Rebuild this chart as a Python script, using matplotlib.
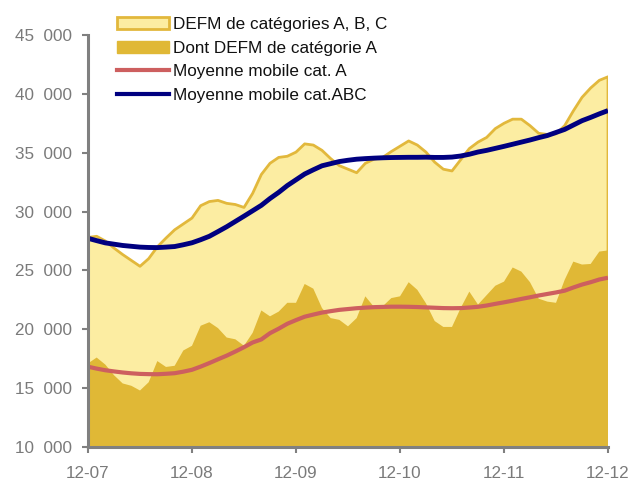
import matplotlib
matplotlib.use("Agg")
import matplotlib.pyplot as plt
from matplotlib.patches import Patch
from matplotlib.lines import Line2D
from matplotlib.ticker import FuncFormatter

plt.rcParams['font.family'] = ['Liberation Sans', 'DejaVu Sans']

tick_labels = ["12-07", "12-08", "12-09", "12-10", "12-11", "12-12"]

defm_abc = [27800, 27900, 27500, 26900, 26350, 25850, 25350, 26000, 27000, 27750,
            28450, 28950, 29450, 30500, 30850, 30950, 30700, 30600, 30350, 31550,
            33150, 34100, 34600, 34700, 35050, 35750, 35650, 35200, 34500, 33900,
            33600, 33300, 34100, 34450, 34600, 35100, 35550, 36000, 35650, 35050,
            34200, 33600, 33450, 34400, 35350, 35900, 36300, 37050, 37500, 37850,
            37850, 37300, 36650, 36550, 36600, 37300, 38550, 39700, 40500, 41150,
            41450]

defm_a = [17100, 17600, 17000, 16100, 15400, 15200, 14800, 15500, 17300, 16800,
          16900, 18200, 18600, 20300, 20600, 20100, 19300, 19150, 18600, 19700,
          21600, 21100, 21500, 22250, 22250, 23850, 23450, 21800, 20950, 20800,
          20250, 20950, 22800, 21900, 21950, 22650, 22800, 24000, 23350, 22200,
          20700, 20200, 20200, 21800, 23200, 22100, 22900, 23700, 24050, 25250,
          24900, 24000, 22600, 22350, 22250, 24200, 25750, 25500, 25550, 26600,
          26700]

mm_abc = [27730, 27530, 27340, 27230, 27120, 27050, 26980, 26950, 26940, 26980,
          27030, 27180, 27350, 27610, 27900, 28300, 28710, 29160, 29610, 30070,
          30530, 31110, 31630, 32210, 32700, 33190, 33550, 33890, 34070, 34250,
          34360, 34450, 34500, 34540, 34570, 34590, 34600, 34610, 34610, 34620,
          34600, 34600, 34630, 34720, 34870, 35060, 35200, 35370, 35540, 35720,
          35900, 36080, 36280, 36460, 36720, 36980, 37350, 37720, 38000, 38300,
          38580]

mm_a = [16820, 16660, 16520, 16420, 16330, 16260, 16210, 16190, 16180, 16220,
        16270, 16400, 16560, 16830, 17130, 17450, 17760, 18110, 18480, 18880,
        19140, 19670, 20050, 20470, 20780, 21070, 21250, 21420, 21540, 21650,
        21720, 21790, 21840, 21880, 21900, 21920, 21920, 21910, 21890, 21860,
        21830, 21800, 21790, 21800, 21850, 21910, 22020, 22160, 22290, 22430,
        22580, 22720, 22870, 23000, 23130, 23280, 23550, 23800, 24000, 24230,
        24380]

labels = ["DEFM de catégories A, B, C", "Dont DEFM de catégorie A",
          "Moyenne mobile cat. A", "Moyenne mobile cat.ABC"]

pale = "#FCEDA2"
gold = "#E0B836"
gold_edge = "#E2B83C"
red = "#CD5F5F"
navy = "#000080"
grey = "#808080"

months = list(range(len(defm_abc)))

fig = plt.figure(figsize=(6.33, 4.8), dpi=100)
ax = fig.add_axes([88/633, 1-447/480, 520/633, 412/480])

ax.fill_between(months, 0, defm_abc, facecolor=pale, edgecolor=gold_edge, linewidth=2.0, zorder=1)
ax.fill_between(months, 0, defm_a, facecolor=gold, edgecolor='none', linewidth=0, zorder=2)
ax.plot(months, mm_a, color=red, linewidth=3.0, zorder=3, solid_capstyle='butt')
ax.plot(months, mm_abc, color=navy, linewidth=3.5, zorder=4, solid_capstyle='butt')

ax.set_xlim(0, 60)
ax.set_ylim(10000, 45000)
ax.set_xticks([0, 12, 24, 36, 48, 60])
ax.set_xticklabels(tick_labels)
ax.set_yticks(range(10000, 45001, 5000))
ax.yaxis.set_major_formatter(FuncFormatter(lambda v, p: f"{int(v):,}".replace(",", "\u2007")))

for s in ['top', 'right']:
    ax.spines[s].set_visible(False)
for s in ['left', 'bottom']:
    ax.spines[s].set_color(grey)
    ax.spines[s].set_linewidth(2.2)
    ax.spines[s].set_zorder(6)

ax.tick_params(axis='both', colors=grey, labelcolor="#7a7a7a", labelsize=12.3,
               length=4.5, width=1.5, direction='out')
ax.tick_params(axis='y', pad=7)
ax.tick_params(axis='x', pad=9)

handles = [Patch(facecolor=pale, edgecolor=gold_edge, linewidth=2.0),
           Patch(facecolor=gold, edgecolor=gold),
           Line2D([], [], color=red, linewidth=3.0),
           Line2D([], [], color=navy, linewidth=3.0)]
leg = fig.legend(handles, labels, loc='upper left',
                 bbox_to_anchor=(103/633, 1-3/480), frameon=False,
                 fontsize=12.3, handlelength=3.05, handletextpad=0.25,
                 labelspacing=0.52, borderpad=0.3)
for t in leg.get_texts():
    t.set_color("#111111")

fig.savefig("out.png", dpi=100)
